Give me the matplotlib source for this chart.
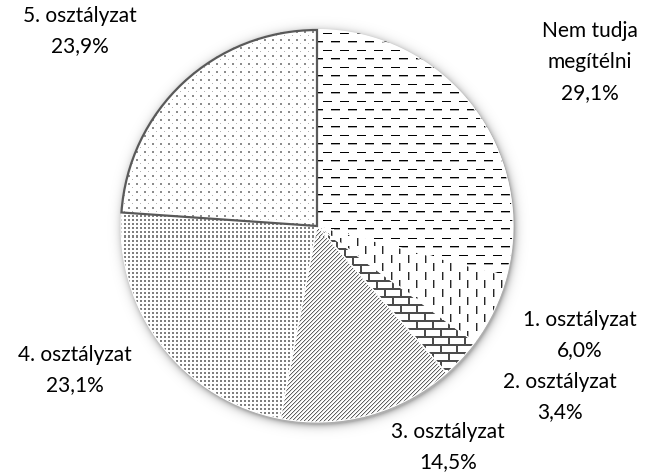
import numpy as np
import matplotlib
matplotlib.use("Agg")
import matplotlib.pyplot as plt
from matplotlib.patches import Wedge

# slice data (clockwise from 12 o'clock)
labels = ["Nem tudja\nmegítélni", "1. osztályzat", "2. osztályzat",
          "3. osztályzat", "4. osztályzat", "5. osztályzat"]
shares = [29.1, 6.0, 3.4, 14.5, 23.1, 23.9]

# layout (pixels, y measured from the top)
W, H = 648, 473
CX, CY, R = 317, 226, 196
label_pos = [(590, 62), (580, 335), (560, 397), (448, 447), (75, 370), (80, 31)]

plt.rcParams["font.family"] = ["Lato", "DejaVu Sans"]


def tile_h_dashes():
    t = np.zeros((17, 17))
    t[0, 0:9] = 1.0
    t[8, 8:17] = 1.0
    t[9, 8:17] = 0.35
    return t


def tile_v_dashes():
    t = np.zeros((17, 17))
    t[0:8, 0] = 0.85
    t[0:8, 1] = 0.35
    t[8:16, 8] = 0.85
    t[8:16, 9] = 0.35
    return t


def tile_bricks():
    t = np.zeros((16, 16))
    t[0:2, :] = 0.7
    t[8:10, :] = 0.7
    t[2:8, 0:2] = 0.7
    t[10:16, 8:10] = 0.7
    return t


def tile_diag():
    t = np.zeros((4, 4))
    for y in range(4):
        for x in range(4):
            k = (x + y) % 4
            if k == 0:
                t[y, x] = 0.62
            elif k == 1:
                t[y, x] = 0.15
    return t


def tile_dense_dots():
    t = np.zeros((4, 4))
    t[0:2, 0:2] = 0.5
    return t


def tile_sparse_dots():
    t = np.zeros((8, 8))
    t[0:2, 0:2] = 0.45
    t[4, 4] = 0.3
    return t


tiles = [tile_h_dashes(), tile_v_dashes(), tile_bricks(),
         tile_diag(), tile_dense_dots(), tile_sparse_dots()]

fig = plt.figure(figsize=(W / 100, H / 100), dpi=100)
ax = fig.add_axes([0, 0, 1, 1])

# pixel grid in data coordinates (pixel centres)
yy, xx = np.mgrid[0:H, 0:W]
px = xx + 0.5
py = H - (yy + 0.5)

# soft shadow around the pie
d = np.hypot(px - (CX + 1.5), py - (H - CY - 2.5))
shadow = np.zeros((H, W, 4))
shadow[..., 3] = np.where(d > R - 4, 0.32 * np.exp(-np.clip(d - R, 0, None) / 3.5), 0.32)
ax.imshow(shadow, extent=(0, W, 0, H), origin="upper", interpolation="bilinear", zorder=0)

wedges, _ = ax.pie(shares, startangle=90, counterclock=False,
                   center=(CX, H - CY), radius=R,
                   wedgeprops=dict(facecolor="white", edgecolor="none", zorder=1))


def texture(tile, w):
    ry = H // tile.shape[0] + 2
    rx = W // tile.shape[1] + 2
    ink = np.tile(tile, (ry, rx))[:H, :W]
    cx, cy = w.center
    dist = np.hypot(px - cx, py - cy)
    ang = np.degrees(np.arctan2(py - cy, px - cx))
    inside = ((ang - w.theta1) % 360) <= (w.theta2 - w.theta1)
    alpha = np.clip(w.r - dist + 0.5, 0, 1) * inside
    img = np.ones((H, W, 4))
    img[..., :3] = (1 - ink)[..., None]
    img[..., 3] = alpha
    return img


for w, t in zip(wedges, tiles):
    ax.imshow(texture(t, w), extent=(0, W, 0, H), origin="upper",
              interpolation="nearest", zorder=2)

# slice outlines: faint white seams, grey border on the last slice
for i, w in enumerate(wedges):
    last = i == len(wedges) - 1
    ax.add_patch(Wedge(w.center, w.r, w.theta1, w.theta2, fill=False,
                       ec="#595959" if last else "white",
                       lw=1.6 if last else 0.8, zorder=4 if last else 3))

for lab, v, (x, y) in zip(labels, shares, label_pos):
    pct = f"{v:.1f}".replace(".", ",") + "%"
    ax.text(x, H - y, f"{lab}\n{pct}", ha="center", va="center",
            multialignment="center", fontsize=15, linespacing=1.68,
            color="black", zorder=5)

ax.set_xlim(0, W)
ax.set_ylim(0, H)
ax.set_aspect("equal")
ax.axis("off")

fig.savefig("out.png", dpi=100)
